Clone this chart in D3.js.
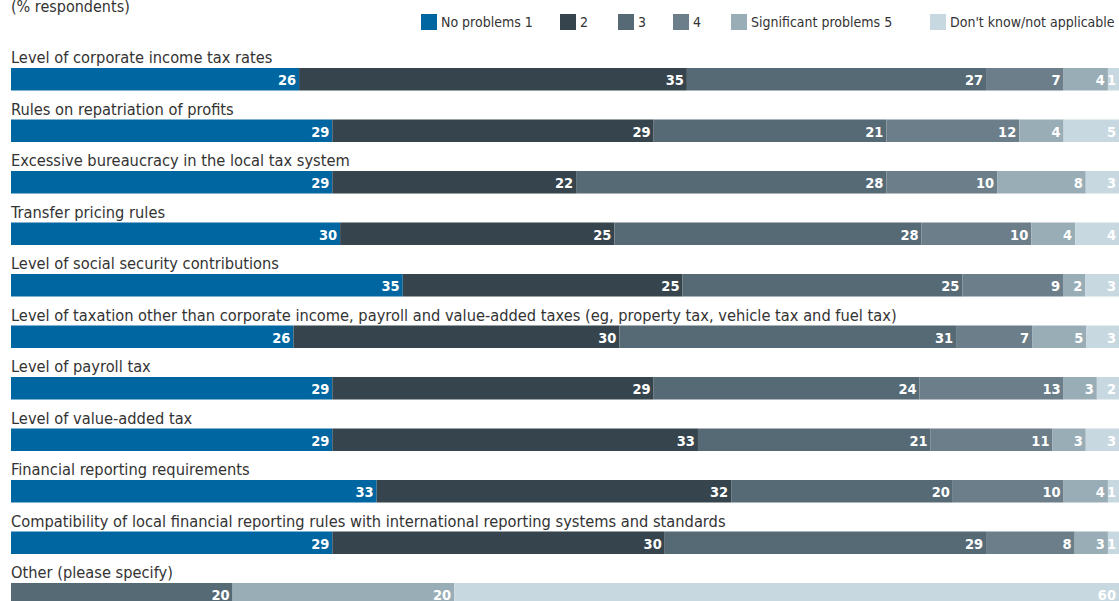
<!DOCTYPE html>
<html>
<head>
<meta charset="utf-8">
<script src="https://cdn.jsdelivr.net/npm/d3@7"></script>
<style>
  html, body { margin: 0; padding: 0; background: #fff; }
  svg { display: block; }
  text { font-family: "DejaVu Sans Condensed", "Liberation Sans Narrow", sans-serif; }
</style>
</head>
<body>
<svg id="chart" width="1119" height="601"></svg>
<script>
// Survey question rows
const categories = [
  "Level of corporate income tax rates",
  "Rules on repatriation of profits",
  "Excessive bureaucracy in the local tax system",
  "Transfer pricing rules",
  "Level of social security contributions",
  "Level of taxation other than corporate income, payroll and value-added taxes (eg, property tax, vehicle tax and fuel tax)",
  "Level of payroll tax",
  "Level of value-added tax",
  "Financial reporting requirements",
  "Compatibility of local financial reporting rules with international reporting systems and standards",
  "Other (please specify)"
];

// Response scale, in stacking order
const seriesNames = ["No problems 1", "2", "3", "4", "Significant problems 5", "Don't know/not applicable"];

// Share of respondents (%) per response, one array per row
const rating1 = [26, 29, 29, 30, 35, 26, 29, 29, 33, 29, 0];
const rating2 = [35, 29, 22, 25, 25, 30, 29, 33, 32, 30, 0];
const rating3 = [27, 21, 28, 28, 25, 31, 24, 21, 20, 29, 20];
const rating4 = [7, 12, 10, 10, 9, 7, 13, 11, 10, 8, 0];
const rating5 = [4, 4, 8, 4, 2, 5, 3, 3, 4, 3, 20];
const dontKnow = [1, 5, 3, 4, 3, 3, 2, 3, 1, 1, 60];

const seriesValues = [rating1, rating2, rating3, rating4, rating5, dontKnow];
const colors = ["#0066a1", "#36454d", "#566a76", "#6b7e89", "#99adb7", "#c8d8e0"];

const rows = categories.map((c, i) => {
  const r = { category: c };
  seriesNames.forEach((s, k) => { r[s] = seriesValues[k][i]; });
  return r;
});

const svg = d3.select("#chart");

// Each row is scaled to its own total
const stack = d3.stack().keys(seriesNames).offset(d3.stackOffsetExpand);
const layers = stack(rows);

const x = d3.scaleLinear().domain([0, 1]).range([11, 1119]);
const y = d3.scaleBand().domain(categories).range([45.5, 45.5 + 51.5 * categories.length]);
const barOffset = 22.5;   // bar sits below its label within each band
const barHeight = 22.5;
const color = d3.scaleOrdinal().domain(seriesNames).range(colors);

// Subtitle
svg.append("text")
  .attr("x", 11).attr("y", 12)
  .attr("font-size", 16).attr("fill", "#333")
  .text("(% respondents)");

// Legend
const legendX = [421, 560, 618, 673, 731, 930];
const legend = svg.append("g").selectAll("g")
  .data(seriesNames)
  .join("g")
  .attr("transform", (d, i) => `translate(${legendX[i]},14)`);
legend.append("rect")
  .attr("width", 16).attr("height", 16)
  .attr("fill", d => color(d));
legend.append("text")
  .attr("x", 20).attr("y", 13)
  .attr("font-size", 14).attr("fill", "#333")
  .text(d => d);

// Row labels
svg.append("g").selectAll("text")
  .data(categories)
  .join("text")
  .attr("x", 11)
  .attr("y", d => y(d) + 17.5)
  .attr("font-size", 16.3).attr("fill", "#333")
  .text(d => d);

// Bars
const layerG = svg.append("g").selectAll("g")
  .data(layers)
  .join("g")
  .attr("fill", d => color(d.key));

layerG.selectAll("rect")
  .data(d => d.map(p => ({ key: d.key, p })))
  .join("rect")
  .attr("x", d => x(d.p[0]))
  .attr("y", d => y(d.p.data.category) + barOffset)
  .attr("width", d => x(d.p[1]) - x(d.p[0]))
  .attr("height", barHeight);

// Value labels at the right end of each segment
layerG.selectAll("text")
  .data(d => d.map(p => ({ key: d.key, p })).filter(d => d.p.data[d.key] > 0))
  .join("text")
  .attr("x", d => x(d.p[1]) - 3)
  .attr("y", d => y(d.p.data.category) + barOffset + 17)
  .attr("text-anchor", "end")
  .attr("font-size", 14.5).attr("font-weight", "bold")
  .attr("fill", "#fff")
  .text(d => d.p.data[d.key]);
</script>
</body>
</html>
